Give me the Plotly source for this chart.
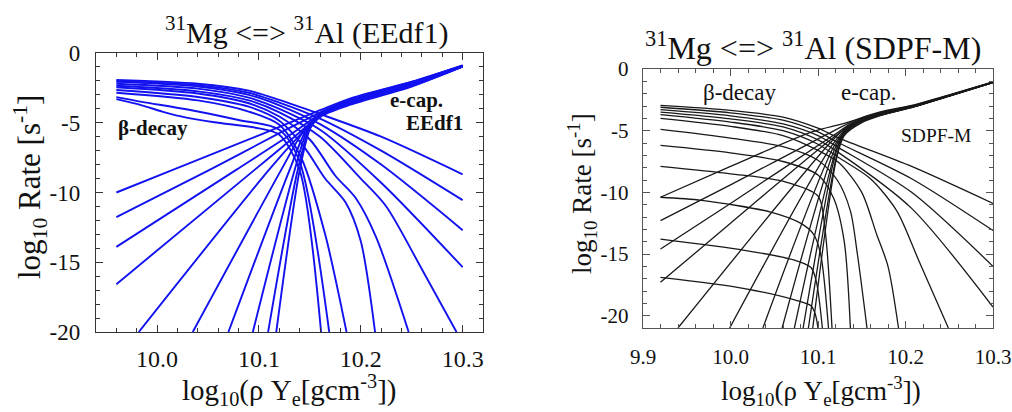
import plotly.graph_objects as go

# ---------------- data ----------------
# Left panel (EEdf1): beta-decay curves, index 0 = highest temperature
LEFT_BETA_X = [
    [9.96, 10.04, 10.09, 10.12, 10.157, 10.22, 10.30],
    [9.96, 10.04, 10.09, 10.12, 10.16, 10.22, 10.30],
    [9.96, 10.04, 10.09, 10.12, 10.16, 10.22, 10.30],
    [9.96, 10.04, 10.09, 10.12, 10.16, 10.22, 10.30],
    [9.96, 10.04, 10.09, 10.12, 10.16, 10.20, 10.225, 10.26, 10.294],
    [9.96, 10.04, 10.09, 10.12, 10.15, 10.175, 10.195, 10.215, 10.247],
    [9.96, 10.04, 10.09, 10.12, 10.145, 10.165, 10.185, 10.20, 10.214],
    [9.96, 10.04, 10.09, 10.12, 10.142, 10.165, 10.186],
    [9.96, 9.985, 10.03, 10.08, 10.12, 10.14, 10.169],
    [9.96, 9.985, 10.005, 10.03, 10.06, 10.10, 10.12, 10.14, 10.161],
]
LEFT_BETA_Y = [
    [-1.93, -2.20, -2.70, -3.36, -4.30, -6.00, -8.70],
    [-2.00, -2.30, -2.85, -3.55, -4.70, -7.00, -10.55],
    [-2.07, -2.40, -3.00, -3.75, -5.10, -8.00, -12.70],
    [-2.20, -2.55, -3.20, -4.00, -5.50, -9.30, -15.35],
    [-2.35, -2.75, -3.40, -4.25, -6.00, -9.00, -11.00, -15.50, -20.0],
    [-2.45, -2.90, -3.60, -4.55, -6.20, -8.80, -10.40, -13.20, -20.0],
    [-2.65, -3.15, -3.85, -4.85, -6.80, -9.00, -10.70, -13.50, -20.0],
    [-2.85, -3.40, -4.20, -5.15, -7.60, -13.00, -20.0],
    [-3.16, -3.50, -4.05, -4.80, -5.50, -7.80, -20.0],
    [-3.31, -3.75, -4.20, -4.65, -5.00, -5.40, -5.86, -8.40, -20.0],
]
# Left panel: electron-capture curves
LEFT_ECAP_X = [
    [9.96, 10.016, 10.10, 10.16, 10.19, 10.25, 10.30],
    [9.96, 10.052, 10.12, 10.165, 10.19, 10.25, 10.30],
    [9.96, 10.078, 10.13, 10.165, 10.19, 10.25, 10.30],
    [9.96, 10.096, 10.135, 10.165, 10.19, 10.25, 10.30],
    [9.982, 10.11, 10.14, 10.163, 10.19, 10.25, 10.30],
    [10.035, 10.122, 10.143, 10.162, 10.19, 10.25, 10.30],
    [10.07, 10.13, 10.146, 10.162, 10.19, 10.25, 10.30],
    [10.094, 10.135, 10.148, 10.162, 10.19, 10.25, 10.30],
    [10.109, 10.138, 10.15, 10.162, 10.19, 10.25, 10.30],
    [10.117, 10.14, 10.151, 10.162, 10.19, 10.25, 10.30],
]
LEFT_ECAP_Y = [
    [-10.00, -8.36, -5.90, -4.10, -3.25, -2.05, -0.88],
    [-11.76, -8.36, -5.75, -4.10, -3.30, -2.08, -0.90],
    [-13.90, -8.36, -5.90, -4.15, -3.35, -2.12, -0.91],
    [-16.57, -8.36, -6.00, -4.20, -3.40, -2.15, -0.92],
    [-20.0, -8.36, -5.90, -4.25, -3.45, -2.20, -0.93],
    [-20.0, -8.36, -5.70, -4.30, -3.50, -2.25, -0.94],
    [-20.0, -8.40, -5.60, -4.35, -3.55, -2.28, -0.95],
    [-20.0, -8.40, -5.50, -4.40, -3.60, -2.32, -0.96],
    [-20.0, -8.40, -5.40, -4.45, -3.65, -2.36, -0.97],
    [-20.0, -8.40, -5.30, -4.50, -3.70, -2.40, -0.98],
]

# Right panel (SDPF-M): beta-decay curves
RIGHT_BETA_X = [
    [9.92, 10.0, 10.06, 10.10, 10.124, 10.207, 10.30],
    [9.92, 10.0, 10.06, 10.10, 10.124, 10.207, 10.30],
    [9.92, 10.0, 10.06, 10.10, 10.124, 10.207, 10.30],
    [9.92, 10.0, 10.06, 10.10, 10.124, 10.207, 10.30],
    [9.92, 10.0, 10.06, 10.10, 10.124, 10.16, 10.19, 10.215, 10.249],
    [9.92, 10.0, 10.06, 10.10, 10.124, 10.15, 10.167, 10.18, 10.192],
    [9.92, 10.0, 10.06, 10.10, 10.122, 10.137, 10.145, 10.156],
    [9.92, 10.0, 10.06, 10.10, 10.118, 10.13, 10.137],
    [9.92, 10.0, 10.06, 10.10, 10.108, 10.116],
    [9.92, 9.967, 10.046, 10.08, 10.095, 10.103, 10.112],
    [9.92, 10.016, 10.073, 10.092, 10.098, 10.105],
    [9.92, 10.016, 10.077, 10.092, 10.097, 10.100],
]
RIGHT_BETA_Y = [
    [-2.95, -3.35, -3.90, -4.80, -5.60, -7.90, -10.90],
    [-3.10, -3.55, -4.15, -5.10, -6.00, -8.90, -13.10],
    [-3.30, -3.80, -4.45, -5.40, -6.40, -10.00, -16.00],
    [-3.50, -4.05, -4.70, -5.75, -6.80, -11.30, -19.30],
    [-3.70, -4.30, -5.00, -6.10, -7.20, -8.90, -11.50, -15.50, -21.0],
    [-4.00, -4.65, -5.40, -6.60, -7.60, -10.00, -13.40, -16.00, -21.0],
    [-4.90, -5.60, -6.30, -7.40, -9.00, -11.50, -15.00, -21.0],
    [-6.20, -6.80, -7.50, -8.60, -10.50, -14.00, -21.0],
    [-7.90, -8.50, -9.10, -10.30, -13.00, -21.0],
    [-10.40, -10.65, -11.60, -12.50, -13.40, -15.00, -21.0],
    [-13.80, -14.70, -15.50, -16.10, -17.20, -21.0],
    [-16.90, -17.80, -18.80, -19.20, -19.90, -21.0],
]
# Right panel: electron-capture curves
RIGHT_ECAP_X = [
    [9.92, 10.0, 10.093, 10.13, 10.17, 10.21, 10.25, 10.30],
    [9.92, 10.0, 10.11, 10.14, 10.17, 10.21, 10.25, 10.30],
    [9.92, 10.0, 10.115, 10.14, 10.17, 10.21, 10.25, 10.30],
    [9.92, 10.0, 10.115, 10.14, 10.17, 10.21, 10.25, 10.30],
    [9.94, 10.115, 10.135, 10.17, 10.21, 10.25, 10.30],
    [9.999, 10.117, 10.135, 10.17, 10.21, 10.25, 10.30],
    [10.037, 10.118, 10.133, 10.15, 10.17, 10.21, 10.25, 10.30],
    [10.059, 10.119, 10.132, 10.15, 10.17, 10.21, 10.25, 10.30],
    [10.073, 10.12, 10.131, 10.15, 10.17, 10.21, 10.25, 10.30],
    [10.083, 10.12, 10.13, 10.15, 10.17, 10.21, 10.25, 10.30],
    [10.089, 10.121, 10.13, 10.15, 10.17, 10.21, 10.25, 10.30],
    [10.094, 10.121, 10.13, 10.15, 10.17, 10.21, 10.25, 10.30],
]
RIGHT_ECAP_Y = [
    [-10.4, -7.9, -5.1, -4.4, -3.50, -2.90, -2.10, -1.05],
    [-12.3, -9.4, -5.3, -4.25, -3.55, -2.93, -2.12, -1.06],
    [-14.6, -10.9, -5.5, -4.35, -3.60, -2.96, -2.14, -1.07],
    [-17.3, -12.5, -5.7, -4.45, -3.62, -2.98, -2.15, -1.08],
    [-21.0, -5.9, -4.6, -3.65, -3.00, -2.16, -1.08],
    [-21.0, -6.1, -4.7, -3.67, -3.01, -2.16, -1.08],
    [-21.0, -6.3, -4.9, -4.10, -3.70, -3.02, -2.17, -1.09],
    [-21.0, -6.5, -5.0, -4.15, -3.72, -3.03, -2.17, -1.09],
    [-21.0, -6.7, -5.1, -4.20, -3.74, -3.04, -2.18, -1.09],
    [-21.0, -6.9, -5.2, -4.25, -3.76, -3.05, -2.18, -1.10],
    [-21.0, -7.1, -5.3, -4.30, -3.78, -3.06, -2.19, -1.10],
    [-21.0, -7.3, -5.4, -4.35, -3.80, -3.07, -2.19, -1.10],
]

LEFT_X_TICKS = [10.0, 10.1, 10.2, 10.3]
LEFT_X_LABELS = ["10.0", "10.1", "10.2", "10.3"]
LEFT_Y_TICKS = [0, -5, -10, -15, -20]
LEFT_Y_LABELS = ["0", "-5", "-10", "-15", "-20"]
RIGHT_X_TICKS = [9.9, 10.0, 10.1, 10.2, 10.3]
RIGHT_X_LABELS = ["9.9", "10.0", "10.1", "10.2", "10.3"]
RIGHT_Y_TICKS = [0, -5, -10, -15, -20]
RIGHT_Y_LABELS = ["0", "-5", "-10", "-15", "-20"]

# ---------------- figure ----------------
W, H = 1012, 412
SERIF = "Liberation Serif, Times New Roman, serif"
BLUE = "rgb(18,18,240)"
BLACK = "rgb(25,25,25)"

fig = go.Figure()

def add_curves(xs, ys, color, width, xa, ya):
    for x, y in zip(xs, ys):
        fig.add_trace(go.Scatter(
            x=x, y=y, mode="lines", xaxis=xa, yaxis=ya,
            line=dict(color=color, width=width, shape="spline", smoothing=0.8),
            showlegend=False, hoverinfo="skip"))

add_curves(LEFT_BETA_X, LEFT_BETA_Y, BLUE, 1.9, "x", "y")
add_curves(LEFT_ECAP_X, LEFT_ECAP_Y, BLUE, 1.9, "x", "y")
add_curves(RIGHT_BETA_X, RIGHT_BETA_Y, BLACK, 1.3, "x2", "y2")
add_curves(RIGHT_ECAP_X, RIGHT_ECAP_Y, BLACK, 1.3, "x2", "y2")

def px_x(p):
    return p / W

def px_y(p):
    return 1 - p / H

def axis(domain, rng, tickvals, ticktext, minor_dtick, minor_tick0, anchor,
         linecolor, fontsize, standoff):
    return dict(
        domain=domain, range=rng, anchor=anchor, automargin=False,
        tickmode="array", tickvals=tickvals, ticktext=ticktext,
        ticks="inside", ticklen=7, tickwidth=1, tickcolor=linecolor,
        minor=dict(ticks="inside", dtick=minor_dtick, tick0=minor_tick0,
                   ticklen=4, tickwidth=1, tickcolor=linecolor, showgrid=False),
        showline=True, linecolor=linecolor, linewidth=1.4, mirror="allticks",
        showgrid=False, zeroline=False,
        tickfont=dict(family=SERIF, size=fontsize, color="#111"),
        ticklabelstandoff=standoff,
    )

fig.update_layout(
    width=W, height=H,
    margin=dict(l=0, r=0, t=0, b=0, autoexpand=False),
    font=dict(family=SERIF, color="#111"),
    paper_bgcolor="white", plot_bgcolor="white",
    xaxis=axis([px_x(96), px_x(483)], [9.94, 10.32], LEFT_X_TICKS, LEFT_X_LABELS,
               0.02, 10.0, "y", "#333", 24, 5),
    yaxis=axis([px_y(332), px_y(53)], [-20, 0], LEFT_Y_TICKS, LEFT_Y_LABELS,
               1, 0, "x", "#333", 23, 10),
    xaxis2=axis([px_x(643), px_x(993)], [9.9, 10.3], RIGHT_X_TICKS, RIGHT_X_LABELS,
                0.02, 9.9, "y2", "#555", 21, 10),
    yaxis2=axis([px_y(328), px_y(69)], [-21, 0], RIGHT_Y_TICKS, RIGHT_Y_LABELS,
                1, 0, "x2", "#555", 21, 9),
)

ann = []
def text(x, y, s, size, xref="paper", yref="paper", angle=0, xanchor="center",
         bold=False):
    ann.append(dict(x=x, y=y, xref=xref, yref=yref, text=(f"<b>{s}</b>" if bold else s),
                    showarrow=False, textangle=angle, xanchor=xanchor, yanchor="middle",
                    font=dict(family=SERIF, size=size, color="#111")))

# titles
text(px_x(307), px_y(31), "<sup>31</sup>Mg &lt;=&gt; <sup>31</sup>Al (EEdf1)", 30)
text(px_x(813), px_y(46), "<sup>31</sup>Mg &lt;=&gt; <sup>31</sup>Al (SDPF-M)", 32)
# axis titles
text(px_x(30), px_y(187), "log<sub>10</sub> Rate [s<sup>-1</sup>]", 31, angle=-90)
text(px_x(289), px_y(390), "log<sub>10</sub>(ρ Y<sub>e</sub>[gcm<sup>-3</sup>])", 29)
text(px_x(582), px_y(194), "log<sub>10</sub> Rate [s<sup>-1</sup>]", 27, angle=-90)
text(px_x(821), px_y(391), "log<sub>10</sub>(ρ Y<sub>e</sub>[gcm<sup>-3</sup>])", 27)
# in-plot labels
text(9.996, -5.36, "β-decay", 21, "x", "y", bold=True)
text(10.283, -3.36, "e-cap.", 21, "x", "y", xanchor="right", bold=True)
text(10.302, -5.0, "EEdf1", 21, "x", "y", xanchor="right", bold=True)
text(10.0102, -1.87, "β-decay", 23, "x2", "y2")
text(10.158, -1.87, "e-cap.", 23, "x2", "y2")
text(10.235, -5.37, "SDPF-M", 19.5, "x2", "y2")

fig.update_layout(annotations=ann)
fig.write_html("out.html",
               config={"displayModeBar": False},
               post_script="document.body.style.margin='0px';document.body.style.overflow='hidden';")
